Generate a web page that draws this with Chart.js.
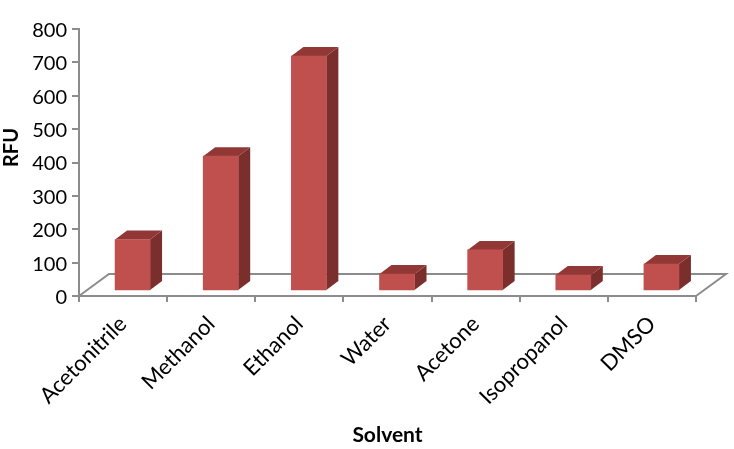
<!DOCTYPE html>
<html><head><meta charset="utf-8">
<style>html,body{margin:0;padding:0;background:#fff}#w{width:734px;height:449px;position:relative}</style>
<script src="https://cdn.jsdelivr.net/npm/chart.js@4"></script></head>
<body><div id="w"><canvas id="c" width="734" height="449"></canvas></div>
<script>
const categories = ['Acetonitrile','Methanol','Ethanol','Water','Acetone','Isopropanol','DMSO'];
const rfuValues = [151,401,701,48,120,45,78];
const yTicks = [0,100,200,300,400,500,600,700,800];
const xTitle = 'Solvent';
const yTitle = 'RFU';

const GREY = '#8c8c8c', TOP = '#913836', SIDE = '#7a2f2d', FRONT = '#c0504d', INK = '#000';
const SHIFT = 9.5, DX = 12, DY = 9, FLOOR_DX = 30, FLOOR_DY = 22;

const floorAndBlocks = {
  id: 'floorAndBlocks',
  beforeDatasetsDraw(chart) {
    const {ctx, chartArea: a} = chart;
    ctx.save();
    ctx.strokeStyle = GREY; ctx.lineWidth = 2;
    ctx.beginPath();
    ctx.moveTo(a.left, a.bottom);
    ctx.lineTo(a.left + FLOOR_DX, a.bottom - FLOOR_DY);
    ctx.lineTo(a.right + FLOOR_DX, a.bottom - FLOOR_DY);
    ctx.lineTo(a.right, a.bottom);
    ctx.stroke();
    ctx.restore();
  },
  beforeDatasetDraw(chart) {
    const ctx = chart.ctx;
    ctx.save();
    ctx.translate(SHIFT, 0);
    chart.getDatasetMeta(0).data.forEach(b => {
      const l = b.x - b.width / 2, r = b.x + b.width / 2, t = b.y, bot = b.base;
      ctx.fillStyle = SIDE;
      ctx.beginPath();
      ctx.moveTo(r, t); ctx.lineTo(r + DX, t - DY); ctx.lineTo(r + DX, bot - DY); ctx.lineTo(r, bot);
      ctx.closePath(); ctx.fill();
      ctx.fillStyle = TOP;
      ctx.beginPath();
      ctx.moveTo(l, t); ctx.lineTo(l + DX, t - DY); ctx.lineTo(r + DX, t - DY); ctx.lineTo(r, t);
      ctx.closePath(); ctx.fill();
    });
  },
  afterDatasetDraw(chart) { chart.ctx.restore(); },
  afterDraw(chart) {
    const ctx = chart.ctx;
    ctx.save();
    ctx.translate(18, 147.5);
    ctx.rotate(-Math.PI / 2);
    ctx.font = 'bold 20px Lato';
    ctx.fillStyle = INK;
    ctx.textAlign = 'center';
    ctx.textBaseline = 'alphabetic';
    ctx.fillText(yTitle, 0, 0);
    ctx.restore();
  }
};

new Chart(document.getElementById('c'), {
  type: 'bar',
  data: { labels: categories, datasets: [{ data: rfuValues, backgroundColor: FRONT, yAxisID: 'yBars',
    barThickness: 35, borderWidth: 0 }] },
  plugins: [floorAndBlocks],
  options: {
    responsive: false, animation: false,
    layout: { padding: { top: 29, right: 38, left: 0, bottom: 0 } },
    plugins: { legend: { display: false }, tooltip: { enabled: false } },
    scales: {
      x: {
        offset: true,
        grid: { offset: true, drawOnChartArea: false, color: GREY, lineWidth: 2, tickLength: 6 },
        border: { color: GREY, width: 2 },
        ticks: { color: INK, font: { family: 'Lato', size: 22 }, minRotation: 45, maxRotation: 45, padding: 9, autoSkip: false },
        title: { display: true, text: xTitle, color: INK, font: { family: 'Lato', size: 21, weight: 'bold' }, padding: { top: 0, bottom: 1 } },
        afterFit(s) { s.height = 153; }
      },
      y: {
        min: 0, max: 800,
        afterBuildTicks(s) { s.ticks = yTicks.map(v => ({ value: v })); },
        grid: { drawOnChartArea: false, color: GREY, lineWidth: 2, tickLength: 7 },
        border: { color: GREY, width: 2 },
        ticks: { color: INK, font: { family: 'Lato', size: 20 }, padding: 5, labelOffset: 1.5 },
        afterFit(s) { s.width = 79; }
      },
      yBars: { display: false, min: -18, max: 782 }
    }
  }
});
</script></body></html>
